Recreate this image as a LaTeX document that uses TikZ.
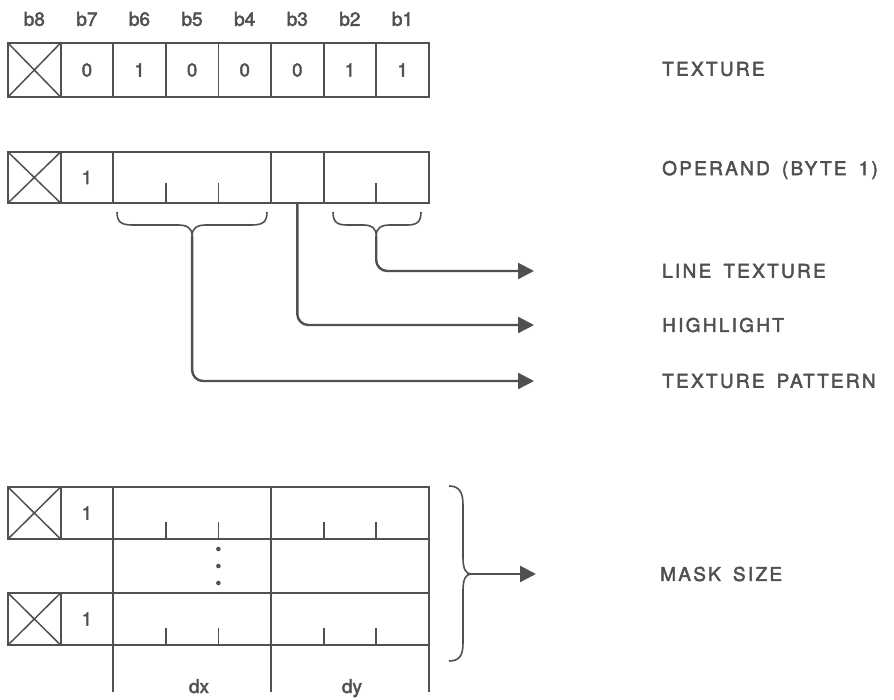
\documentclass[tikz,border=0pt]{standalone}
\usepackage{fontspec}
\setmainfont[RawFeature={embolden=2.4}]{TeX Gyre Heros}
\newfontfamily\spaced[LetterSpace=12,WordSpace=1.6,RawFeature={embolden=2.4}]{TeX Gyre Heros}
\usetikzlibrary{arrows.meta}
\definecolor{ink}{HTML}{505050}
\begin{document}
\begin{tikzpicture}[x=1pt,y=-1pt,
  cell/.style={draw=ink, line width=1.8pt, outer sep=0pt, inner sep=0pt,
    minimum width=52.6pt, text=ink, font=\fontsize{18.5}{20}\selectfont},
  tick/.style={draw=ink, line width=1.8pt},
  brace/.style={draw=ink, line width=1.6pt},
  conn/.style={draw=ink, line width=2.4pt, rounded corners=11pt,
    -{Triangle[length=16pt,width=16pt]}},
  lbl/.style={text=ink, anchor=west, inner sep=0pt, font=\spaced\fontsize{19}{21}\selectfont},
  bit/.style={text=ink, inner sep=0pt, font=\fontsize{19}{21}\selectfont},
  xcross/.style={draw=ink, line width=1.5pt}]
\useasboundingbox (0,0) rectangle (894,699);

% ---- row 1: TEXTURE byte
\foreach \b [count=\k from 0] in {b8,b7,b6,b5,b4,b3,b2,b1}
  \node[bit] (h\k) at ({34.3+\k*52.6},19) {\b};
\node[cell, minimum height=54pt] (a0) at (34.3,70) {};
\draw[xcross] (a0.north west) -- (a0.south east) (a0.north east) -- (a0.south west);
\foreach \t [count=\k] in {0,1,0,0,0,1,1}
  \node[cell, minimum height=54pt] (a\k) at ({34.3+\k*52.6},70) {\t};

% ---- row 2: OPERAND byte
\node[cell, minimum height=51pt] (b0) at (34.3,177.5) {};
\draw[xcross] (b0.north west) -- (b0.south east) (b0.north east) -- (b0.south west);
\node[cell, minimum height=51pt] (b1) at (86.9,177.5) {1};
\node[cell, minimum height=51pt, minimum width=157.8pt] (b2) at (192.1,177.5) {};
\node[cell, minimum height=51pt] (b3) at (297.3,177.5) {};
\node[cell, minimum height=51pt, minimum width=105.2pt] (b4) at (376.2,177.5) {};
\draw[tick] ([xshift=52.6pt]b2.south west) -- ++(0,-20)
            ([xshift=105.2pt]b2.south west) -- ++(0,-20)
            (b4.south) -- ++(0,-20);

% braces under row 2
\coordinate (tp) at (192.1,236);
\coordinate (lt) at (376.2,236);
\draw[brace] (117,212) .. controls (117,222) and (121,225) .. (133,225) -- (178,225)
  .. controls (187,225) and (192.1,228) .. (tp)
  .. controls (192.1,228) and (197,225) .. (206,225) -- (251,225)
  .. controls (263,225) and (267,222) .. (267,212);
\draw[brace] (333,212) .. controls (333,222) and (337,225) .. (347,225) -- (363,225)
  .. controls (372,225) and (376.2,228) .. (lt)
  .. controls (376.2,228) and (381,225) .. (390,225) -- (407,225)
  .. controls (417,225) and (421,222) .. (421,212);

% labels
\node[lbl] (lTex) at (662,69) {TEXTURE};
\node[lbl] (lOp) at (662,170) {OPERAND (BYTE 1)};
\node[lbl] (lLine) at (662,271) {LINE TEXTURE};
\node[lbl] (lHi) at (662,325) {HIGHLIGHT};
\node[lbl] (lPat) at (662,381) {TEXTURE PATTERN};
\node[lbl] (lMask) at (660,574) {MASK SIZE};

\coordinate (eLine) at (534,271);
\coordinate (eHi) at (534,325);
\coordinate (ePat) at (534,381);
\draw[conn] (lt) |- (eLine);
\draw[conn] (b3.south) |- (eHi);
\draw[conn] (tp) |- (ePat);

% ---- bottom: mask size
\node[cell, minimum height=52pt] (c0) at (34.3,513) {};
\draw[xcross] (c0.north west) -- (c0.south east) (c0.north east) -- (c0.south west);
\node[cell, minimum height=52pt] (c1) at (86.9,513) {1};
\node[cell, minimum height=52pt, minimum width=157.8pt] (c2) at (192.1,513) {};
\node[cell, minimum height=52pt, minimum width=157.8pt] (c3) at (349.9,513) {};
\node[cell, minimum height=54pt, minimum width=157.8pt] (d2) at (192.1,566) {};
\node[cell, minimum height=54pt, minimum width=157.8pt] (d3) at (349.9,566) {};
\node[cell, minimum height=52pt] (e0) at (34.3,619) {};
\draw[xcross] (e0.north west) -- (e0.south east) (e0.north east) -- (e0.south west);
\node[cell, minimum height=52pt] (e1) at (86.9,619) {1};
\node[cell, minimum height=52pt, minimum width=157.8pt] (e2) at (192.1,619) {};
\node[cell, minimum height=52pt, minimum width=157.8pt] (e3) at (349.9,619) {};
\foreach \n in {c2,c3,e2,e3}
  \draw[tick] ([xshift=52.6pt]\n.south west) -- ++(0,-17)
              ([xshift=105.2pt]\n.south west) -- ++(0,-17);
\draw[tick] (e2.south west) -- ++(0,47) (e2.south east) -- ++(0,47) (e3.south east) -- ++(0,47);
\node[bit, anchor=base] (dx) at (199,693) {dx};
\node[bit, anchor=base] (dy) at (352,693) {dy};
\foreach \yy in {549,566,583} \fill[ink] (218.4,\yy) circle (2.3);

% big brace
\coordinate (mt) at (471,574);
\coordinate (eMask) at (536,574);
\draw[brace] (449,486) .. controls (459,486) and (463,492) .. (463,505) -- (463,558)
  .. controls (463,569) and (466,574) .. (mt)
  .. controls (466,574) and (463,579) .. (463,590) -- (463,643)
  .. controls (463,656) and (459,661) .. (449,661);
\draw[conn] (mt) -- (eMask);
\end{tikzpicture}
\end{document}
